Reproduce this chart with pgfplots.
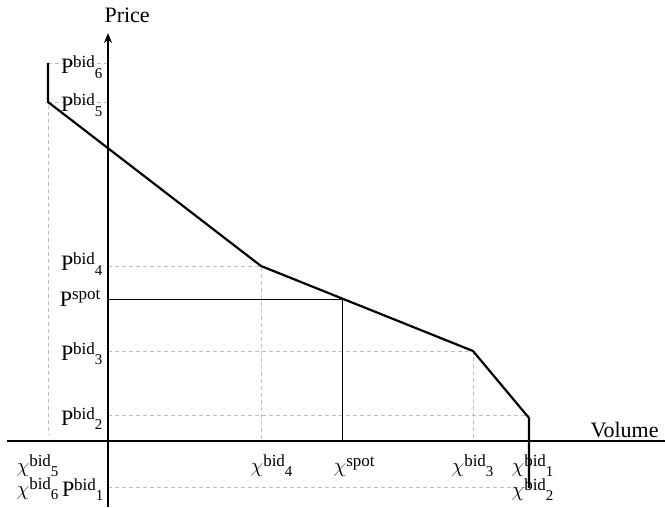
\documentclass[border=0pt]{standalone}
\usepackage{pgfplots}
\pgfplotsset{compat=1.18}
\usepackage{fontspec}
\setmainfont{Liberation Serif}
\usetikzlibrary{arrows.meta}
\newcommand{\bg}{\fontsize{22}{26}\selectfont}
\newcommand{\sm}{\fontsize{17}{17}\selectfont}
\newcommand{\sbf}{\fontsize{15}{15}\selectfont}
\newcommand{\lab}[3]{{\bg #1}\raisebox{6pt}{\sm #2}\raisebox{-4.5pt}{\sbf #3}}
\newcommand{\labs}[1]{{\bg #1}\raisebox{6pt}{\sm spot}}
\newcommand{\chisym}{{\bg$\chi$}}
\begin{document}
\begin{tikzpicture}
\begin{axis}[
  width=665pt, height=508pt, scale only axis,
  xmin=0, xmax=665, ymin=0, ymax=508, y dir=reverse,
  hide axis, clip=false,
  every node/.style={inner sep=0pt},
]
% dashed guides
\addplot[gray!50, line width=0.6pt, dash pattern=on 4pt off 3pt] coordinates {(48,63) (108,63)};
\addplot[gray!50, line width=0.6pt, dash pattern=on 4pt off 3pt] coordinates {(48,102) (108,102)};
\addplot[gray!50, line width=0.6pt, dash pattern=on 4pt off 3pt] coordinates {(48,63) (48,435)};
\addplot[gray!50, line width=0.6pt, dash pattern=on 4pt off 3pt] coordinates {(108,266) (261,266) (261,441)};
\addplot[gray!50, line width=0.6pt, dash pattern=on 4pt off 3pt] coordinates {(108,351) (473,351) (473,441)};
\addplot[gray!50, line width=0.6pt, dash pattern=on 4pt off 3pt] coordinates {(108,415) (529,415)};
\addplot[gray!50, line width=0.6pt, dash pattern=on 4pt off 3pt] coordinates {(108,487) (529,487)};
% spot lines
\addplot[black, line width=0.8pt] coordinates {(108,299) (342,299) (342,441)};
% axes
\addplot[black, line width=1.8pt] coordinates {(7,441) (665,441)};
\addplot[black, line width=1.8pt, -{Stealth[length=10pt,width=8pt]}] coordinates {(108,507) (108,33)};
% bid curve
\addplot[black, line width=2.2pt, line join=miter] coordinates {(48,63) (48,102) (261,266) (473,351) (529,418) (529,488)};
% labels
\node[anchor=base west] at (axis cs:101,23) {\bg Price};
\node[anchor=base west] at (axis cs:587,437) {\bg Volume};
\node[anchor=base east] at (axis cs:106,74) {\lab{P}{bid}{6}};
\node[anchor=base east] at (axis cs:106,112) {\lab{P}{bid}{5}};
\node[anchor=base east] at (axis cs:106,271) {\lab{P}{bid}{4}};
\node[anchor=base east] at (axis cs:104,306) {\labs{P}};
\node[anchor=base east] at (axis cs:106,360) {\lab{P}{bid}{3}};
\node[anchor=base east] at (axis cs:106,425) {\lab{P}{bid}{2}};
\node[anchor=base east] at (axis cs:107,496) {\lab{P}{bid}{1}};
\node[anchor=base west] at (axis cs:13,472) {\lab{\chisym}{bid}{5}};
\node[anchor=base west] at (axis cs:13,495) {\lab{\chisym}{bid}{6}};
\node[anchor=base west] at (axis cs:247,472) {\lab{\chisym}{bid}{4}};
\node[anchor=base west] at (axis cs:330,472) {\labs{\chisym}};
\node[anchor=base west] at (axis cs:448,472) {\lab{\chisym}{bid}{3}};
\node[anchor=base west] at (axis cs:508,472) {\lab{\chisym}{bid}{1}};
\node[anchor=base west] at (axis cs:508,496) {\lab{\chisym}{bid}{2}};
\end{axis}
\pgfresetboundingbox
\path[use as bounding box] (current axis.south west) rectangle (current axis.north east);
\end{tikzpicture}
\end{document}
